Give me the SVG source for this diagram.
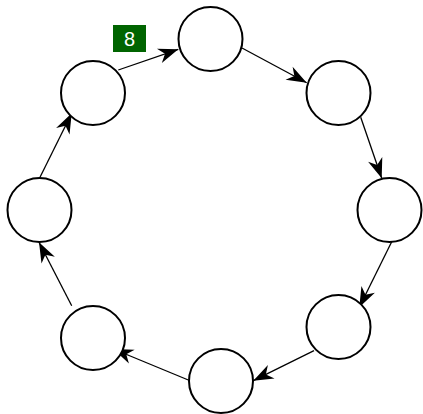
<svg xmlns="http://www.w3.org/2000/svg" width="423" height="414" viewBox="0 0 423 414">
  <style>
    .node circle { fill: #ffffff; stroke: #000000; stroke-width: 2; }
    .edge { fill: none; stroke: #000000; stroke-width: 1.3; marker-end: url(#arrow); }
    .label rect { fill: #006400; }
    .label text { fill: #ffffff; font-family: "Liberation Sans", Arial, sans-serif; font-size: 20px; text-anchor: middle; }
  </style>
  <defs>
    <marker id="arrow" viewBox="-21 -8 22 16" refX="0" refY="0" markerWidth="22" markerHeight="16" markerUnits="userSpaceOnUse" orient="auto">
      <path d="M0,0 L-20,-7.5 L-14,0 L-20,7.5 Z" fill="#000000"/>
    </marker>
  </defs>
  <rect width="423" height="414" fill="#ffffff"/>
  <g id="connectors">
    <line class="edge" x1="118.3" y1="70" x2="178.3" y2="49.3"/>
    <line class="edge" x1="242" y1="48" x2="306.7" y2="82.7"/>
    <line class="edge" x1="360.7" y1="117.3" x2="381.7" y2="178.3"/>
    <line class="edge" x1="391.7" y1="241.7" x2="359.3" y2="307.3"/>
    <line class="edge" x1="314" y1="350.7" x2="253.3" y2="380.7"/>
    <line class="edge" x1="188.3" y1="380" x2="113.3" y2="349"/>
    <line class="edge" x1="71.7" y1="305.7" x2="39" y2="242.3"/>
    <line class="edge" x1="40" y1="177.3" x2="71.7" y2="113.3"/>
  </g>
  <g id="n1" class="node"><circle cx="210.5" cy="39" r="32"/></g>
  <g id="n2" class="node"><circle cx="338.5" cy="93" r="32"/></g>
  <g id="n3" class="node"><circle cx="389.5" cy="210" r="32"/></g>
  <g id="n4" class="node"><circle cx="338.5" cy="327" r="32"/></g>
  <g id="n5" class="node"><circle cx="221" cy="381" r="32"/></g>
  <g id="n6" class="node"><circle cx="93" cy="338" r="32"/></g>
  <g id="n7" class="node"><circle cx="39.5" cy="210" r="32"/></g>
  <g id="n8" class="node"><circle cx="93" cy="93" r="32"/></g>
  <g id="label8" class="label">
    <rect x="113" y="25" width="33" height="27"/>
    <text x="129.5" y="45.5">8</text>
  </g>
</svg>
